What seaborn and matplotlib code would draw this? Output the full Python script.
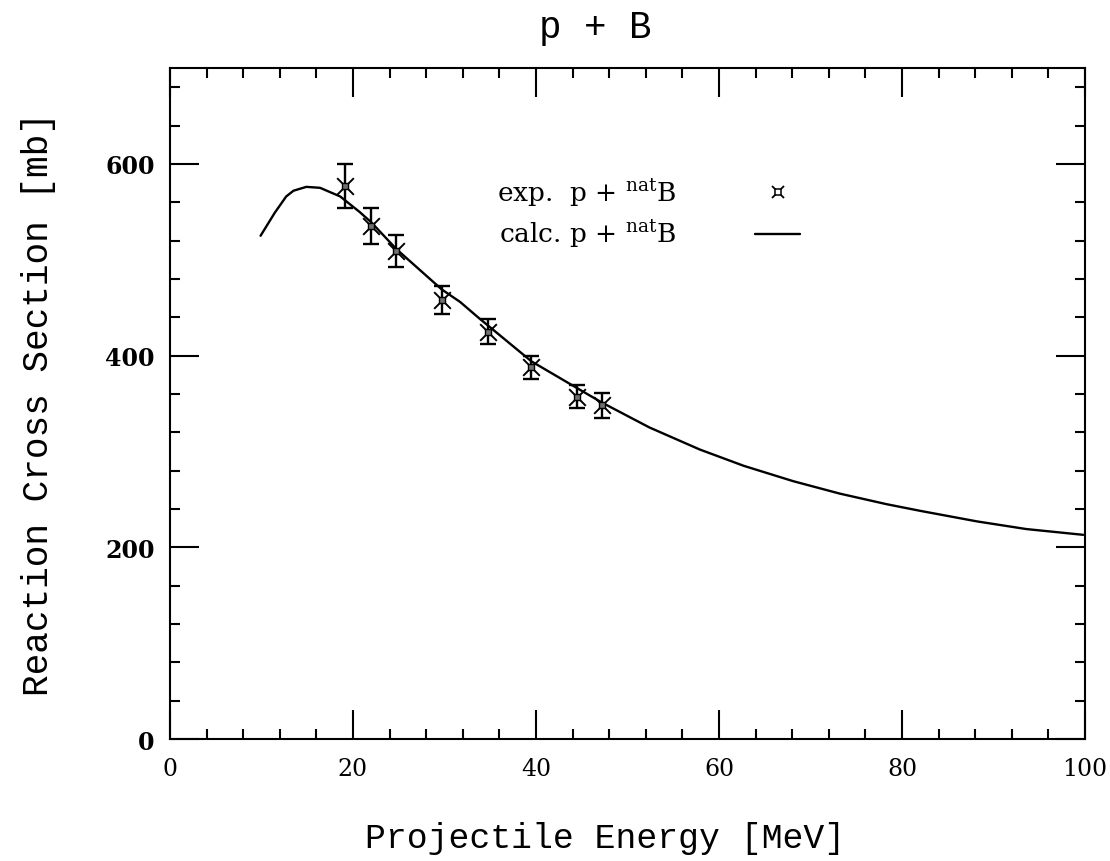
import numpy as np
import pandas as pd
import matplotlib
matplotlib.use("Agg")
import matplotlib.pyplot as plt
import seaborn as sns
from matplotlib.lines import Line2D
from matplotlib.legend_handler import HandlerTuple
from matplotlib.ticker import MultipleLocator

# ---------------- data ----------------
exp_energy = [19.1, 22.0, 24.75, 29.7, 34.8, 39.5, 44.5, 47.2]
exp_sigma = [577, 535, 509, 458, 425, 388, 357, 348]
exp_err = [23, 19, 17, 15, 13, 12, 12, 13]

calc_energy = [9.9, 11.45, 12.7, 13.5, 14.9, 16.4, 18.6, 20.7, 22.0, 24.75,
               29.7, 31.7, 33.9, 34.8, 39.5, 44.5, 47.2, 52.4, 57.9, 62.7,
               68.1, 73.2, 78.3, 82.0, 88.2, 93.6, 99.8]
calc_sigma = [525, 549, 566, 572, 576, 575, 566, 550, 539, 511,
              469, 456, 438, 431, 394, 366, 351, 325, 302, 285,
              269, 256, 245, 238, 227, 219, 213]

x_major_ticks = [0, 20, 40, 60, 80, 100]
y_major_ticks = [0, 200, 400, 600]

title_text = "p + B"
xlabel_text = "Projectile Energy [MeV]"
ylabel_text = "Reaction Cross Section [mb]"
legend_labels = [r"exp.  p + $^{\rm nat}$B", r"calc. p + $^{\rm nat}$B"]

exp_df = pd.DataFrame({"E": exp_energy, "sigma": exp_sigma, "err": exp_err})
calc_df = pd.DataFrame({"E": calc_energy, "sigma": calc_sigma})

# ---------------- style ----------------
sns.set_theme(style="ticks")
plt.rcParams["font.family"] = ["DejaVu Serif"]
plt.rcParams["mathtext.fontset"] = "dejavuserif"
plt.rcParams["axes.edgecolor"] = "black"

fig = plt.figure(figsize=(11.1, 8.62), dpi=100)
ax = fig.add_axes([0.15315, 0.14153, 0.82432, 0.77842])

# calculation curve
sns.lineplot(data=calc_df, x="E", y="sigma", color="black", linewidth=1.7,
             estimator=None, sort=False, ax=ax)

# experimental points with error bars
ax.errorbar(exp_df["E"], exp_df["sigma"], yerr=exp_df["err"], fmt="none",
            ecolor="black", elinewidth=1.7, capsize=6, capthick=1.7, zorder=3)
sns.scatterplot(data=exp_df, x="E", y="sigma", marker="x", s=12 ** 2,
                color="black", linewidth=1.4, ax=ax, zorder=4)
sns.scatterplot(data=exp_df, x="E", y="sigma", marker="s", s=5 ** 2,
                color="#707070", edgecolor="black", linewidth=1.0, ax=ax, zorder=5)

# axes limits & ticks
ax.set_xlim(0, 100)
ax.set_ylim(0, 700)
ax.set_xticks(x_major_ticks)
ax.set_yticks(y_major_ticks)
ax.xaxis.set_minor_locator(MultipleLocator(4))
ax.yaxis.set_minor_locator(MultipleLocator(40))
ax.tick_params(which="both", direction="in", top=True, right=True,
               width=1.5, color="black")
ax.tick_params(which="major", length=21, labelsize=17, labelcolor="black")
ax.tick_params(which="minor", length=7.5)
ax.tick_params(axis="x", which="major", pad=13)
ax.tick_params(axis="y", which="major", pad=11)
for lab in ax.get_yticklabels():
    lab.set_fontweight("bold")
for sp in ax.spines.values():
    sp.set_linewidth(1.5)
    sp.set_color("black")

# labels
ax.set_title(title_text, family="Liberation Mono", fontsize=27, x=0.4645, pad=22,
             color="black")
ax.set_xlabel(xlabel_text, family="Liberation Mono", fontsize=25, color="black")
ax.set_ylabel(ylabel_text, family="Liberation Mono", fontsize=26, color="black")
ax.xaxis.set_label_coords(0.475, -0.122)
ax.yaxis.set_label_coords(-0.1246, 0.5)

# legend (text first, symbol after)
h_exp = (Line2D([], [], ls="", marker="x", ms=9, mew=1.3, color="black"),
         Line2D([], [], ls="", marker="s", ms=4, mfc="white", mec="black", mew=1.1))
h_calc = Line2D([], [], color="black", lw=1.7)
ax.legend([h_exp, h_calc], legend_labels,
          handler_map={tuple: HandlerTuple(ndivide=1)},
          markerfirst=False, frameon=False, loc="upper left",
          bbox_to_anchor=(0.357, 0.838), borderpad=0, borderaxespad=0,
          fontsize=19, handlelength=1.7, handletextpad=3.0, labelspacing=0.35,
          labelcolor="black")

fig.savefig("out.png", dpi=100)
